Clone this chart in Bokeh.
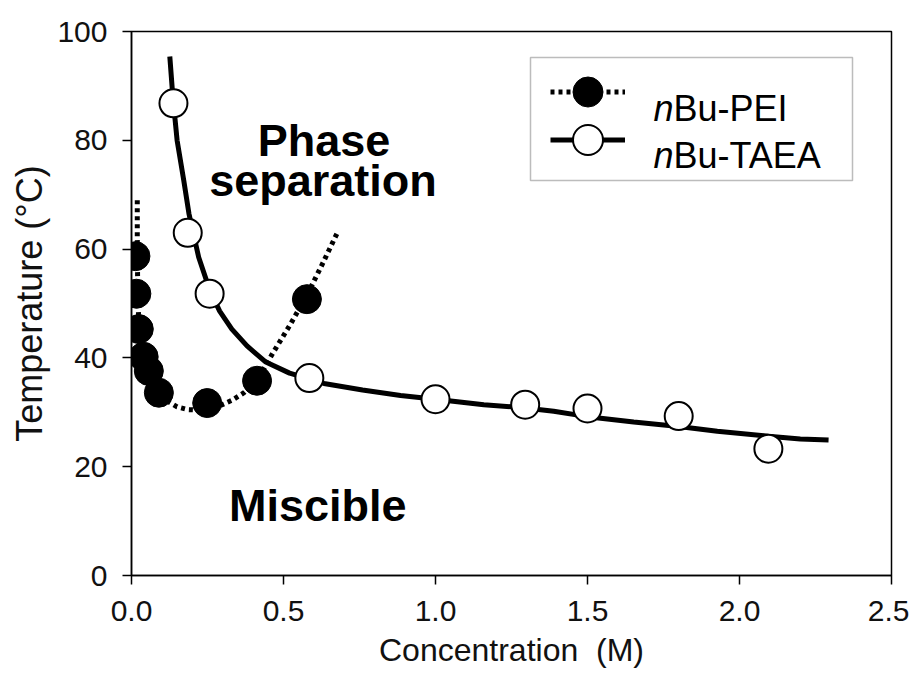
from bokeh.plotting import figure
from bokeh.models import (Range1d, FixedTicker, NumeralTickFormatter, Label, Legend,
                          LegendItem, BoxAnnotation)
from bokeh.embed import file_html
from bokeh.resources import INLINE

# ---- data ----
pei_x = [0.013, 0.016, 0.024, 0.040, 0.057, 0.090, 0.249, 0.413, 0.577]
pei_y = [58.7, 51.8, 45.3, 40.2, 37.6, 33.6, 31.7, 35.8, 50.8]

pei_fit_x = [0.019, 0.019, 0.020, 0.023, 0.030, 0.045, 0.065, 0.090, 0.120, 0.150, 0.185,
             0.220, 0.250, 0.290, 0.330, 0.370, 0.413, 0.463, 0.523, 0.577, 0.630, 0.677]
pei_fit_y = [69.0, 62.0, 55.0, 48.0, 42.5, 38.5, 35.8, 33.5, 32.0, 31.0, 30.5,
             30.4, 30.6, 31.2, 32.2, 33.6, 35.8, 40.7, 46.2, 51.5, 57.5, 63.0]

taea_x = [0.138, 0.185, 0.257, 0.585, 1.0, 1.295, 1.5, 1.8, 2.095]
taea_y = [86.8, 63.0, 51.8, 36.3, 32.4, 31.4, 30.7, 29.3, 23.3]

taea_fit_x = [0.126, 0.136, 0.150, 0.172, 0.189, 0.221, 0.257, 0.290, 0.330, 0.380, 0.440,
              0.520, 0.587, 0.633, 0.760, 0.885, 1.0, 1.159, 1.295, 1.389, 1.5, 1.652,
              1.8, 1.927, 2.095, 2.2, 2.293]
taea_fit_y = [95.4, 88.0, 80.0, 72.6, 66.5, 58.5, 52.5, 48.6, 45.3, 42.2, 39.3,
              37.2, 36.1, 35.3, 34.1, 33.1, 32.4, 31.4, 30.8, 30.2, 29.2, 28.2,
              27.4, 26.5, 25.6, 25.1, 24.9]

x_ticks = [0.0, 0.5, 1.0, 1.5, 2.0, 2.5]
y_ticks = [0, 20, 40, 60, 80, 100]

FONT = "Liberation Sans"

p = figure(frame_width=760, frame_height=544, output_backend="svg", toolbar_location=None,
           x_range=Range1d(0, 2.5), y_range=Range1d(0, 100),
           min_border_left=131, min_border_top=31, min_border_right=18, min_border_bottom=100)
p.background_fill_color = "white"
p.border_fill_color = "white"
p.grid.visible = False
p.outline_line_color = "black"
p.outline_line_width = 1.5

for ax in (p.xaxis[0], p.yaxis[0]):
    ax.axis_line_width = 1.5
    ax.axis_line_color = "black"
    ax.major_tick_line_color = "black"
    ax.major_tick_line_width = 1.5
    ax.major_tick_out = 9
    ax.major_tick_in = 0
    ax.minor_tick_line_color = None
    ax.major_label_text_font = FONT
    ax.major_label_text_font_size = "30px"
    ax.major_label_text_color = "#111111"
    ax.axis_label_text_font = FONT
    ax.axis_label_text_font_style = "normal"
    ax.axis_label_text_color = "#111111"

p.xaxis[0].ticker = FixedTicker(ticks=x_ticks)
p.xaxis[0].formatter = NumeralTickFormatter(format="0.0")
p.xaxis[0].major_label_standoff = 16
p.xaxis[0].axis_label = "Concentration\u00a0\u00a0(M)"
p.xaxis[0].axis_label_text_font_size = "32px"
p.xaxis[0].axis_label_standoff = 8

p.yaxis[0].ticker = FixedTicker(ticks=y_ticks)
p.yaxis[0].major_label_standoff = 15
p.yaxis[0].axis_label = "Temperature (°C)"
p.yaxis[0].axis_label_text_font_size = "36px"
p.yaxis[0].axis_label_standoff = 4

# curves
pei_line = p.line(pei_fit_x, pei_fit_y, line_color="black", line_width=5, line_dash="4 4")
taea_line = p.line(taea_fit_x, taea_fit_y, line_color="black", line_width=5)
# points
pei_pts = p.scatter(pei_x, pei_y, marker="circle", size=29, fill_color="black",
                    line_color="black", line_width=1)
taea_pts = p.scatter(taea_x, taea_y, marker="circle", size=28, fill_color="white",
                     line_color="black", line_width=2)

# region labels
for txt, x, y in [("Phase", 0.633, 80.0), ("separation", 0.63, 72.6), ("Miscible", 0.613, 12.9)]:
    p.add_layout(Label(x=x, y=y, text=txt, text_align="center", text_baseline="alphabetic",
                       text_font=FONT, text_font_style="bold", text_font_size="45px",
                       text_color="black"))

# legend: one Bokeh legend per row (symbols), border and text as annotations
for renderers, loc in [([pei_line, pei_pts], (419, 446)), ([taea_line, taea_pts], (419, 398))]:
    lg = Legend(items=[LegendItem(label=" ", renderers=renderers)],
                location=loc, glyph_width=75, glyph_height=75, spacing=0,
                padding=0, margin=0, label_height=20, label_width=10,
                background_fill_alpha=0, border_line_alpha=0)
    p.add_layout(lg)
p.add_layout(BoxAnnotation(left=399, right=721, top=518, bottom=395,
                           left_units="screen", right_units="screen",
                           top_units="screen", bottom_units="screen",
                           fill_alpha=0, line_color="#222222", line_width=1.5))
for yb, rest in [(467, "Bu-PEI"), (420, "Bu-TAEA")]:
    p.add_layout(Label(x=522, y=yb, x_units="screen", y_units="screen", text="n",
                       text_font=FONT, text_font_style="italic", text_font_size="36px",
                       text_baseline="alphabetic", text_color="black"))
    p.add_layout(Label(x=542, y=yb, x_units="screen", y_units="screen", text=rest,
                       text_font=FONT, text_font_size="36px",
                       text_baseline="alphabetic", text_color="black"))

open("out.html", "w").write(file_html(p, INLINE))
